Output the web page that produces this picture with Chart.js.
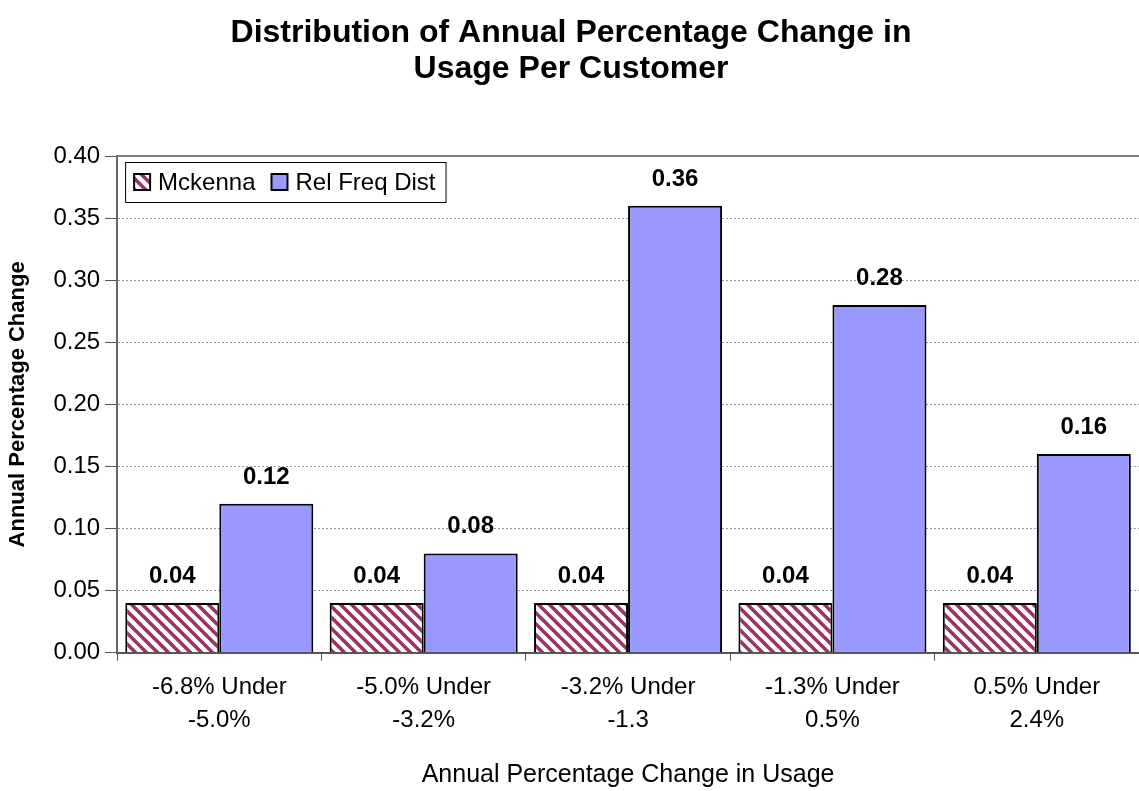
<!DOCTYPE html>
<html>
<head>
<meta charset="utf-8">
<script src="https://cdn.jsdelivr.net/npm/chart.js"></script>
<style>
  html, body { margin: 0; padding: 0; background: #fff; }
  #wrap { width: 1139px; height: 791px; }
</style>
</head>
<body>
<div id="wrap"><canvas id="distChart" width="1139" height="791"></canvas></div>
<script>
// donnees
var categories = [
  ["-6.8% Under", "-5.0%"],
  ["-5.0% Under", "-3.2%"],
  ["-3.2% Under", "-1.3"],
  ["-1.3% Under", "0.5%"],
  ["0.5% Under", "2.4%"]
];
var mckenna = [0.04, 0.04, 0.04, 0.04, 0.04];
var relFreqDist = [0.12, 0.08, 0.36, 0.28, 0.16];
var yTicks = [0, 0.05, 0.10, 0.15, 0.20, 0.25, 0.30, 0.35, 0.40];

Chart.defaults.font.family = "'Liberation Sans', Arial, sans-serif";
Chart.defaults.color = "#000";

// motif hachure pour la serie Mckenna
function makeHatch() {
  var c = document.createElement("canvas");
  c.width = 11; c.height = 11;
  var g = c.getContext("2d");
  g.fillStyle = "#fff";
  g.fillRect(0, 0, 11, 11);
  g.strokeStyle = "#993366";
  g.lineWidth = 3.5;
  for (var k = -1; k <= 1; k++) {
    g.beginPath();
    g.moveTo(k * 11 - 2, -2);
    g.lineTo(k * 11 + 13, 13);
    g.stroke();
  }
  return g.createPattern(c, "repeat");
}

var ctx = document.getElementById("distChart").getContext("2d");
var hatch = makeHatch();

// etiquettes de valeurs, bordure du haut et legende dans la zone du graphique
var extras = {
  id: "extras",
  beforeDatasetsDraw: function (chart) {
    var a = chart.chartArea, c = chart.ctx;
    c.save();
    c.strokeStyle = "#808080";
    c.lineWidth = 2;
    c.beginPath();
    c.moveTo(a.left, a.top);
    c.lineTo(chart.width, a.top);
    c.stroke();
    c.restore();
  },
  afterDatasetsDraw: function (chart) {
    var c = chart.ctx, a = chart.chartArea;
    c.save();
    c.font = "bold 24px 'Liberation Sans', Arial, sans-serif";
    c.fillStyle = "#000";
    c.textAlign = "center";
    c.textBaseline = "alphabetic";
    chart.data.datasets.forEach(function (ds, i) {
      chart.getDatasetMeta(i).data.forEach(function (bar, j) {
        c.fillText(ds.data[j].toFixed(2), bar.x, bar.y - 20);
      });
    });

    // legende
    c.font = "24px 'Liberation Sans', Arial, sans-serif";
    c.textAlign = "left";
    c.textBaseline = "middle";
    var x0 = a.left + 8, y0 = a.top + 6, h = 40, box = 16;
    var x = x0 + 9, cy = y0 + h / 2;
    var items = [];
    chart.data.datasets.forEach(function (ds) {
      items.push({ x: x, label: ds.label, fill: ds.backgroundColor });
      x += box + 8 + c.measureText(ds.label).width + 16;
    });
    var w = x - 16 + 10 - x0;
    c.fillStyle = "#fff";
    c.fillRect(x0, y0, w, h);
    c.strokeStyle = "#000";
    c.lineWidth = 1;
    c.strokeRect(x0 + 0.5, y0 + 0.5, w, h);
    items.forEach(function (it) {
      c.fillStyle = it.fill;
      c.fillRect(it.x, cy - box / 2, box, box);
      c.lineWidth = 2;
      c.strokeRect(it.x, cy - box / 2, box, box);
      c.fillStyle = "#000";
      c.fillText(it.label, it.x + box + 8, cy + 1);
    });
    c.restore();
  }
};

new Chart(ctx, {
  type: "bar",
  data: {
    labels: categories,
    datasets: [{
      label: "Mckenna",
      data: mckenna,
      backgroundColor: hatch,
      borderColor: "#000",
      borderWidth: 2,
      categoryPercentage: 0.92,
      barPercentage: 1
    }, {
      label: "Rel Freq Dist",
      data: relFreqDist,
      backgroundColor: "#9999FF",
      borderColor: "#000",
      borderWidth: 2,
      categoryPercentage: 0.92,
      barPercentage: 1
    }]
  },
  options: {
    responsive: false,
    animation: false,
    layout: { padding: { left: 3, right: 0, top: 0, bottom: 0 } },
    plugins: {
      legend: { display: false },
      tooltip: { enabled: false },
      title: {
        display: true,
        text: ["Distribution of Annual Percentage Change in", "Usage Per Customer"],
        font: { size: 32, weight: "bold", lineHeight: 1.125 },
        color: "#000",
        padding: { top: 15, bottom: 69 }
      }
    },
    scales: {
      x: {
        grid: { offset: true, drawOnChartArea: false, tickLength: 8, tickColor: "#555", tickWidth: 1 },
        border: { color: "#555", width: 2 },
        ticks: { font: { size: 24, lineHeight: 1.38 }, color: "#000", padding: 10, maxRotation: 0, autoSkip: false },
        title: {
          display: true,
          text: "Annual Percentage Change in Usage",
          font: { size: 25 },
          color: "#000",
          padding: { top: 13, bottom: 1 }
        }
      },
      y: {
        min: yTicks[0],
        max: yTicks[yTicks.length - 1],
        afterBuildTicks: function (scale) {
          scale.ticks = yTicks.map(function (v) { return { value: v }; });
        },
        ticks: {
          font: { size: 24 },
          color: "#000",
          padding: 5,
          callback: function (v) { return Number(v).toFixed(2); }
        },
        grid: { color: "#999", tickColor: "#555", tickLength: 12, tickBorderDash: [] },
        border: { color: "#666", width: 2, dash: [2, 2] },
        title: {
          display: true,
          text: "Annual Percentage Change",
          font: { size: 22, weight: "bold" },
          color: "#000",
          padding: { top: 2, bottom: 17 }
        }
      }
    }
  },
  plugins: [extras]
});
</script>
</body>
</html>
